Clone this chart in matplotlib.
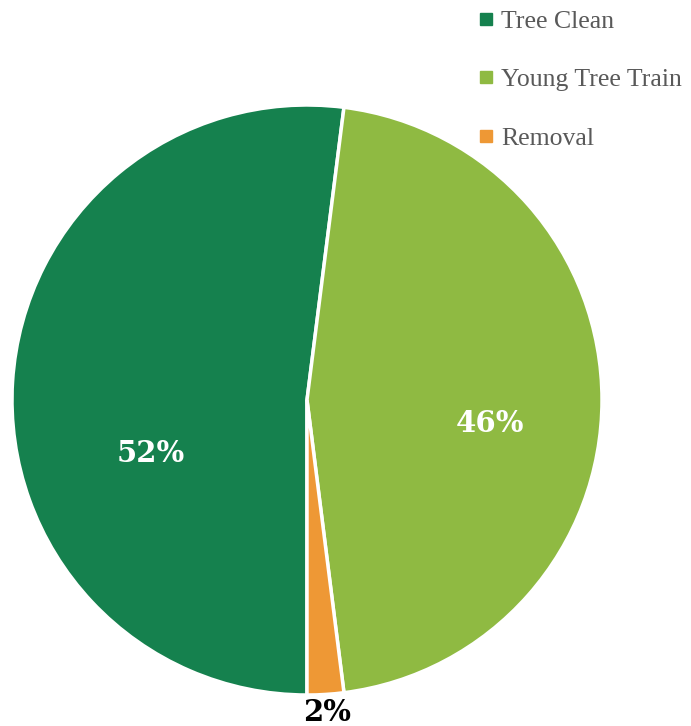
import matplotlib.pyplot as plt
from matplotlib.lines import Line2D

# data
categories = ['Tree Clean', 'Young Tree Train', 'Removal']
shares = [52, 46, 2]
colors = ['#15814E', '#8FBA42', '#EE9835']

W, H = 691, 726
fig = plt.figure(figsize=(W / 100, H / 100), dpi=100)

# pie axes: centre (307, 400) px, radius 295 px
cx, cy, r = 307, 400, 295
ax = fig.add_axes([(cx - r) / W, 1 - (cy + r) / H, 2 * r / W, 2 * r / H])
wedges, _ = ax.pie(shares, colors=colors, startangle=270, counterclock=False,
                   radius=1, wedgeprops=dict(edgecolor='white', linewidth=2.5))
ax.set_xlim(-1, 1)
ax.set_ylim(-1, 1)
ax.set_aspect('auto')
ax.axis('off')

# percentage labels (excel "best fit" spots)
label_pos = [(-0.53, -0.18), (0.62, -0.08), (0.068, -1.06)]
label_col = ['white', 'white', 'black']
for val, (x, y), c in zip(shares, label_pos, label_col):
    ax.text(x, y, f'{val}%', color=c, fontsize=21, fontweight='bold',
            family='DejaVu Serif', ha='center', va='center', clip_on=False)

# legend
handles = [Line2D([], [], marker='s', linestyle='none', markersize=8,
                  markerfacecolor=c, markeredgecolor=c) for c in colors]
leg = fig.legend(handles, categories, loc='upper left',
                 bbox_to_anchor=(468 / W, 1 - 0 / H), frameon=False,
                 prop={'family': 'Liberation Serif', 'size': 18.5},
                 labelcolor='#595959', handlelength=0.6, handletextpad=0.3,
                 labelspacing=1.37, borderaxespad=0)

fig.savefig('out.png', dpi=100)
